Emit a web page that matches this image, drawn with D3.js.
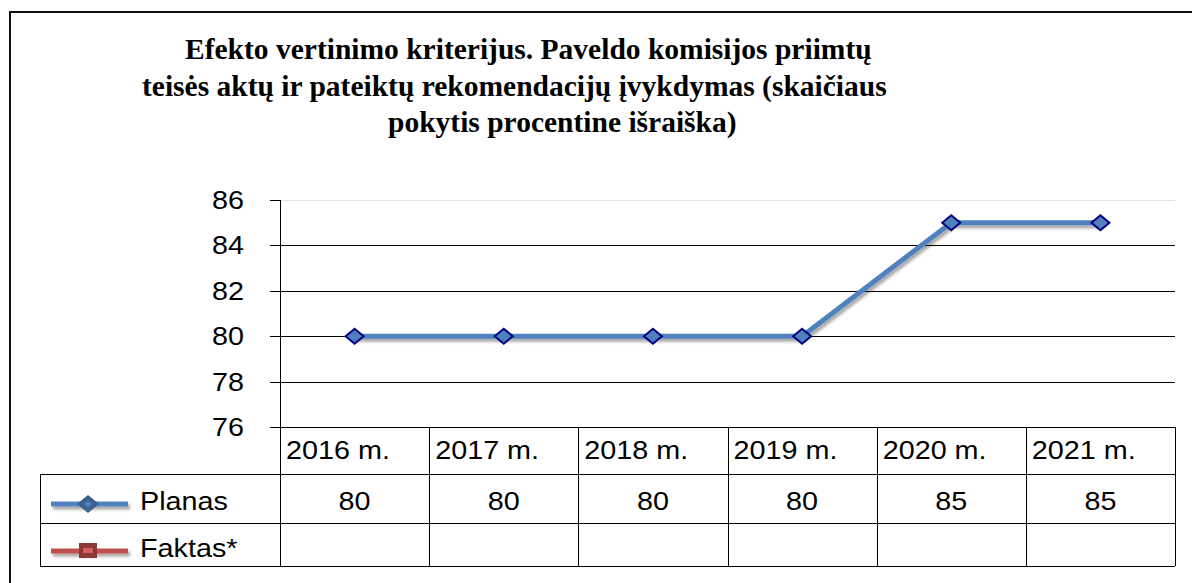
<!DOCTYPE html>
<html><head><meta charset="utf-8">
<script src="https://cdn.jsdelivr.net/npm/d3@7"></script>
<style>html,body{margin:0;padding:0;background:#fff;overflow:hidden}</style>
</head><body>
<svg id="chart" width="1192" height="583"></svg>
<script>
const titleLines = [
  "Efekto vertinimo kriterijus. Paveldo komisijos priimtų",
  "teisės aktų ir pateiktų rekomendacijų įvykdymas (skaičiaus",
  "pokytis procentine išraiška)"
];
const categories = ["2016 m.", "2017 m.", "2018 m.", "2019 m.", "2020 m.", "2021 m."];
const planas = [80, 80, 80, 80, 85, 85];
const faktas = [null, null, null, null, null, null];
const seriesNames = ["Planas", "Faktas*"];
const yTicks = [76, 78, 80, 82, 84, 86];

(function(){
const svg = d3.select("#chart");
const defs = svg.append("defs");
const f = defs.append("filter").attr("id","shadow").attr("filterUnits","userSpaceOnUse")
  .attr("x",0).attr("y",0).attr("width",1192).attr("height",583);
f.append("feDropShadow").attr("dx",2).attr("dy",3).attr("stdDeviation",1.6).attr("flood-color","#000").attr("flood-opacity",0.35);

// outer border
svg.append("rect").attr("x",10).attr("y",12).attr("width",1200).attr("height",600)
  .attr("fill","none").attr("stroke","#111").attr("stroke-width",2);

// title
const titleX = [185, 142, 388];
const titleY = [59, 96, 132];
svg.selectAll("text.title").data(titleLines).join("text").attr("class","title")
  .attr("x",(d,i)=>titleX[i]).attr("y",(d,i)=>titleY[i])
  .attr("font-family","'Liberation Serif','Times New Roman',serif")
  .attr("font-weight","bold").attr("font-size",29.5).attr("fill","#000")
  .text(d=>d);

const pLeft = 280, pRight = 1175, pTop = 200, pBottom = 427;
const x = d3.scaleBand().domain(categories).range([pLeft, pRight]);
const y = d3.scaleLinear().domain([76, 86]).range([pBottom, pTop]);

// gridlines
svg.selectAll("line.grid").data(yTicks).join("line").attr("class","grid")
  .attr("x1",270).attr("x2",pRight).attr("y1",d=>Math.round(y(d))+0.5).attr("y2",d=>Math.round(y(d))+0.5)
  .attr("stroke",d=>d===86?"#e4e4e4":"#000").attr("stroke-width",1);
svg.selectAll("line.tick").data(yTicks).join("line").attr("class","tick")
  .attr("x1",270).attr("x2",pLeft).attr("y1",d=>Math.round(y(d))+0.5).attr("y2",d=>Math.round(y(d))+0.5)
  .attr("stroke","#000");

const SX = 1.15;
const txt = (sel)=>sel.attr("font-family","'Liberation Sans',Arial,sans-serif").attr("font-size",25).attr("fill","#000");
const place = (sel, fx, fy)=>sel.attr("transform",(d,i)=>`translate(${fx(d,i)},${fy(d,i)}) scale(${SX},1)`);

// y labels
svg.selectAll("text.ylab").data(yTicks).join("text").attr("class","ylab")
  .call(place, ()=>244, d=>y(d)).attr("dy","0.36em").attr("text-anchor","end")
  .call(txt).text(d=>d);

// table
const rowY = [pBottom, 474, 523, 566];
const tbl = svg.append("g").attr("stroke","#000").attr("stroke-width",1);
const colX = categories.map(c=>x(c)).concat([pRight]);
colX.forEach(cx=>{
  tbl.append("line").attr("x1",Math.round(cx)+0.5).attr("x2",Math.round(cx)+0.5)
    .attr("y1",cx===pLeft?pTop:pBottom).attr("y2",rowY[3]);
});
rowY.forEach((ry,i)=>{
  tbl.append("line").attr("x1",i===0?270:40).attr("x2",pRight).attr("y1",ry+0.5).attr("y2",ry+0.5);
});
tbl.append("line").attr("x1",40.5).attr("x2",40.5).attr("y1",rowY[1]).attr("y2",rowY[3]);

svg.selectAll("text.cat").data(categories).join("text").attr("class","cat")
  .call(place, d=>x(d)+6, ()=>459).call(txt).text(d=>d);
svg.selectAll("text.val").data(planas).join("text").attr("class","val")
  .call(place, (d,i)=>x(categories[i])+x.bandwidth()/2, ()=>510).attr("text-anchor","middle")
  .call(txt).text(d=>d);
svg.selectAll("text.fval").data(faktas.filter(d=>d!=null)).join("text").attr("class","fval")
  .call(place, (d,i)=>x(categories[i])+x.bandwidth()/2, ()=>557).attr("text-anchor","middle")
  .call(txt).text(d=>d);

const diamond = (cx,cy,w=9,h=7.5)=>`M${cx-w},${cy}L${cx},${cy-h}L${cx+w},${cy}L${cx},${cy+h}Z`;

// legend
const lg = svg.append("g");
lg.append("line").attr("x1",51).attr("x2",128).attr("y1",504).attr("y2",504)
  .attr("stroke","#4f81bd").attr("stroke-width",5).attr("filter","url(#shadow)");
lg.append("path").attr("d",diamond(88,504,11,9)).attr("fill","#3b5f8f");
lg.append("path").attr("d",diamond(88,504,4,3.5)).attr("fill","#4f81bd");
lg.append("line").attr("x1",51).attr("x2",128).attr("y1",551).attr("y2",551)
  .attr("stroke","#c0504d").attr("stroke-width",5).attr("filter","url(#shadow)");
lg.append("rect").attr("x",79).attr("y",543).attr("width",18).attr("height",15).attr("fill","#8c3836");
lg.append("rect").attr("x",83).attr("y",548).attr("width",10).attr("height",5).attr("fill","#d0605d");
lg.selectAll("text").data(seriesNames).join("text")
  .call(place, ()=>140, (d,i)=>i===0?510:557).call(txt).text(d=>d);

// series line
const pts = planas.map((v,i)=>({c:categories[i], v}));
const line = d3.line().x(d=>x(d.c)+x.bandwidth()/2).y(d=>y(d.v));
svg.append("path").datum(pts).attr("d",line).attr("fill","none")
  .attr("stroke","#4f81bd").attr("stroke-width",5).attr("stroke-linejoin","round")
  .attr("filter","url(#shadow)");
svg.selectAll("path.mk").data(pts).join("path").attr("class","mk")
  .attr("d",d=>diamond(x(d.c)+x.bandwidth()/2, y(d.v)))
  .attr("fill","#4f81bd").attr("stroke","#000080").attr("stroke-width",2);
})();
</script>
</body></html>
